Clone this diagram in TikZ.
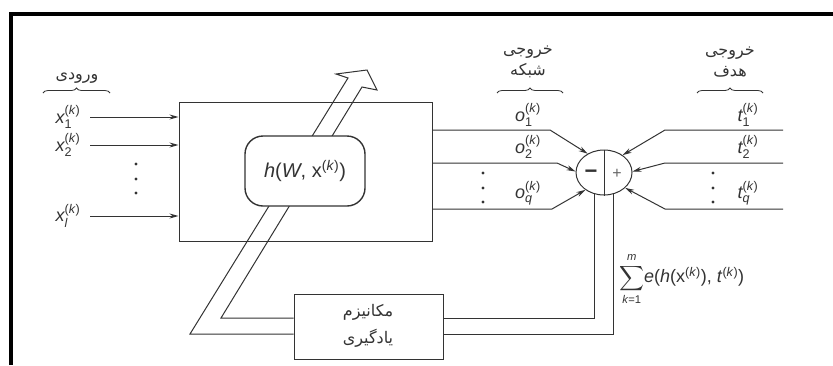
\documentclass[tikz,border=0pt]{standalone}
\usepackage{amsmath}
\usepackage{exscale}
\usepackage{fontspec}
\setmainfont{Liberation Sans}
\newfontfamily\fa[Script=Arabic]{DejaVu Sans}
\TeXXeTstate=1
\usetikzlibrary{arrows.meta,decorations.pathreplacing,shapes.geometric}
\definecolor{ink}{HTML}{333333}
\newcommand{\sv}[2]{$\textit{#1}^{\text{(\textit{k})}}_{\text{#2}}$}
\newcommand{\supk}{$^{\text{(\textit{k})}}$}
\tikzset{
  ln/.style={draw=ink, line width=1pt},
  arr/.style={ln, -{Stealth[length=9pt,width=5pt]}},
  lbl/.style={font=\fontsize{18}{18}\selectfont, text=ink, inner sep=0pt},
  fatext/.style={font=\fontsize{16}{21}\selectfont\fa, text=ink, align=center, inner sep=0pt},
  br/.style={decorate, decoration={brace, amplitude=5pt}, draw=ink, line width=0.8pt},
  dotm/.style={fill=ink, draw=none},
}
\begin{document}
\begin{tikzpicture}[x=1pt, y=-1pt]
\useasboundingbox (0,0) rectangle (833,365);
% frame
\draw[line width=4pt, black] (11,365) -- (11,13.7) -- (833,13.7);

% main box
\node[ln, minimum width=253pt, minimum height=139pt, inner sep=0pt] (main) at (305.5,171.5) {};
% learning box
\node[ln, fill=white, minimum width=149pt, minimum height=65pt, inner sep=0pt] (learn) at (368.5,326.5) {};
\node[fatext, font=\fontsize{16}{27}\selectfont\fa] (learntxt) at (368,326) {\beginR مکانیزم\endR\\\beginR یادگیری\endR};

% hollow arrow
\coordinate (a1) at (190,334);
\coordinate (a2) at (221,318);
\draw[ln, line join=miter] (learn.west |- a1) -- (a1) -- (348,78) -- (336,74) -- (367,70) -- (377,90) -- (362,87) -- (a2) -- (learn.west |- a2);

% rounded box
\node[draw=ink, line width=1.4pt, fill=white, rounded corners=18pt, minimum width=120pt, minimum height=70pt, inner sep=0pt, font=\fontsize{20}{20}\selectfont, text=ink] (h) at (305,171) {\textit{h}(\textit{W}, x\supk)};

% inputs
\node[fatext] (inlbl) at (77,78) {\beginR ورودی\endR};
\draw[br] (43,93) -- (110,93);
\node[lbl] (x1) at (68,117) {\sv{x}{1}};
\node[lbl] (x2) at (68,145) {\sv{x}{2}};
\node[lbl] (xl) at (68,216) {\sv{x}{\textit{l}}};
\coordinate (i1) at (90,117);
\coordinate (i2) at (90,145);
\coordinate (il) at (90,216);
\draw[arr] (i1) -- (i1 -| main.west);
\draw[arr] (i2) -- (i2 -| main.west);
\draw[arr] (il) -- (il -| main.west);
\foreach \y in {164,179,193} \fill[dotm] (136,\y) circle (1.6);

% loop lines to learning box
\coordinate (l1) at (594,318);
\coordinate (l2) at (613,334);
\coordinate (cc) at (604,172.5);
\draw[ln] (learn.east |- l1) -- (l1) -- (l1 |- cc);
\draw[ln] (learn.east |- l2) -- (l2) -- (l2 |- cc);

% comparator
\node[ellipse, draw=ink, line width=1pt, fill=white, minimum width=56pt, minimum height=45pt, inner sep=0pt] (circ) at (cc) {};
\draw[ln] (circ.north) -- (circ.south);
\node[font=\fontsize{22}{22}\selectfont\bfseries, text=ink, inner sep=0pt] (minus) at (591,174) {\textminus};
\node[font=\fontsize{16}{16}\selectfont, text=black!60, inner sep=0pt] (plus) at (617,174) {+};

% network outputs
\node[fatext] (outlbl) at (528,62) {\beginR خروجی\endR\\\beginR شبکه\endR};
\draw[br] (497,93) -- (563,93);
\node[lbl] (o1) at (528,115) {\sv{o}{1}};
\node[lbl] (o2) at (528,147) {\sv{o}{2}};
\node[lbl] (oq) at (528,193) {\sv{o}{\textit{q}}};
\coordinate (ob1) at (550,130);
\coordinate (ob2) at (557,163);
\coordinate (obq) at (552,209);
\draw[arr] (main.east |- ob1) -- (ob1) -- (circ.131);
\draw[arr] (main.east |- ob2) -- (ob2) -- (circ.178);
\draw[arr] (main.east |- obq) -- (obq) -- (circ.223);
\foreach \y in {173,188,202} \fill[dotm] (483,\y) circle (1.6);

% targets
\node[fatext] (tgtlbl) at (730,62) {\beginR خروجی\endR\\\beginR هدف\endR};
\draw[br] (697,93) -- (763,93);
\node[lbl] (t1) at (748,115) {\sv{t}{1}};
\node[lbl] (t2) at (748,147) {\sv{t}{2}};
\node[lbl] (tq) at (748,193) {\sv{t}{\textit{q}}};
\coordinate (te1) at (783,130);
\coordinate (tb1) at (665,130);
\coordinate (te2) at (783,163);
\coordinate (tb2) at (665,163);
\coordinate (teq) at (783,209);
\coordinate (tbq) at (665,209);
\draw[arr] (te1) -- (tb1) -- (circ.43);
\draw[arr] (te2) -- (tb2) -- (circ.2);
\draw[arr] (teq) -- (tbq) -- (circ.324);
\foreach \y in {173,188,202} \fill[dotm] (713,\y) circle (1.6);

% error sum
\node[anchor=west, font=\fontsize{18}{18}\selectfont, text=ink, inner sep=0pt] (sum) at (619,279)
  {{\fontsize{16}{16}\selectfont$\displaystyle\sum_{\text{\textit{k}=1}}^{\text{\textit{m}}}$}\textit{e}(\textit{h}(x\supk), \textit{t}\supk)};
\end{tikzpicture}
\end{document}
